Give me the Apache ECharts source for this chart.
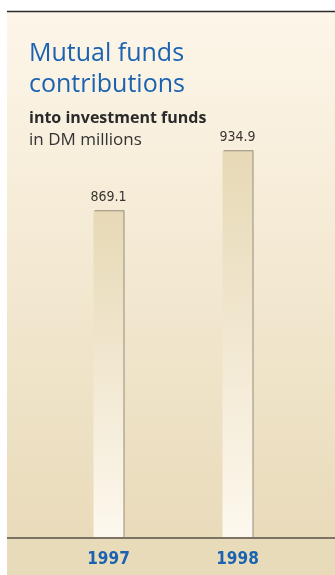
<!DOCTYPE html>
<html><head><meta charset="utf-8">
<script src="https://cdn.jsdelivr.net/npm/echarts@6/dist/echarts.min.js"></script>
<style>html,body{margin:0;padding:0;background:#fff;}#c{width:335px;height:575px;}</style>
</head><body><div id="c"></div>
<script>
const categories = ['1997', '1998'];
const values = [869.1, 934.9];
const titleText = 'Mutual funds\ncontributions';
const subtitleBold = 'into investment funds';
const subtitleUnit = 'in DM millions';

const chart = echarts.init(document.getElementById('c'));
const baseY = 538;
const condensed = '"DejaVu Sans Condensed", "DejaVu Sans", sans-serif';
chart.setOption({
  animation: false,
  graphic: [
    { type: 'rect', z: -10, shape: { x: 7, y: 11, width: 328, height: baseY - 11 },
      style: { fill: new echarts.graphic.LinearGradient(0, 0, 0, 1, [
        { offset: 0, color: '#fdf6e9' }, { offset: 1, color: '#e9dbba' }]) } },
    { type: 'rect', z: -10, shape: { x: 7, y: baseY, width: 328, height: 575 - baseY },
      style: { fill: '#e8dbb9' } },
    { type: 'line', z: 10, shape: { x1: 7, y1: 11.5, x2: 335, y2: 11.5 },
      style: { stroke: '#2b2b2b', lineWidth: 1.5 } },
    { type: 'line', z: 10, shape: { x1: 7, y1: baseY, x2: 335, y2: baseY },
      style: { stroke: '#7d7364', lineWidth: 2 } }
  ],
  title: [
    { text: titleText, left: 24, top: 33,
      textStyle: { fontFamily: 'Open Sans', fontWeight: 'normal', fontSize: 25, lineHeight: 31, color: '#1b63b0' } },
    { text: subtitleBold, left: 24, top: 105,
      textStyle: { fontFamily: 'Open Sans', fontWeight: 'bold', fontSize: 16, color: '#2a2a2a' } },
    { text: subtitleUnit, left: 24, top: 127,
      textStyle: { fontFamily: 'Open Sans', fontWeight: 'normal', fontSize: 17, color: '#333' } }
  ],
  grid: { left: 44, right: 33, top: 92, bottom: 575 - baseY },
  xAxis: {
    type: 'category', data: categories,
    axisLine: { show: false }, axisTick: { show: false },
    axisLabel: { margin: 13, fontFamily: condensed, fontWeight: 'bold', fontSize: 17, color: '#1b63b0' }
  },
  yAxis: { type: 'value', min: 510, max: 1000, show: false, splitLine: { show: false } },
  series: [{
    type: 'bar', data: values, barWidth: 30,
    itemStyle: {
      color: new echarts.graphic.LinearGradient(0, 0, 0, 1, [
        { offset: 0, color: '#e7d9b6' }, { offset: 1, color: '#fdf8ee' }]),
      shadowColor: '#958c7c', shadowOffsetX: 1, shadowOffsetY: -1, shadowBlur: 0
    },
    label: { show: true, position: 'top', distance: 7,
      fontFamily: condensed, fontSize: 14, color: '#3a3632' }
  }]
});
</script></body></html>
